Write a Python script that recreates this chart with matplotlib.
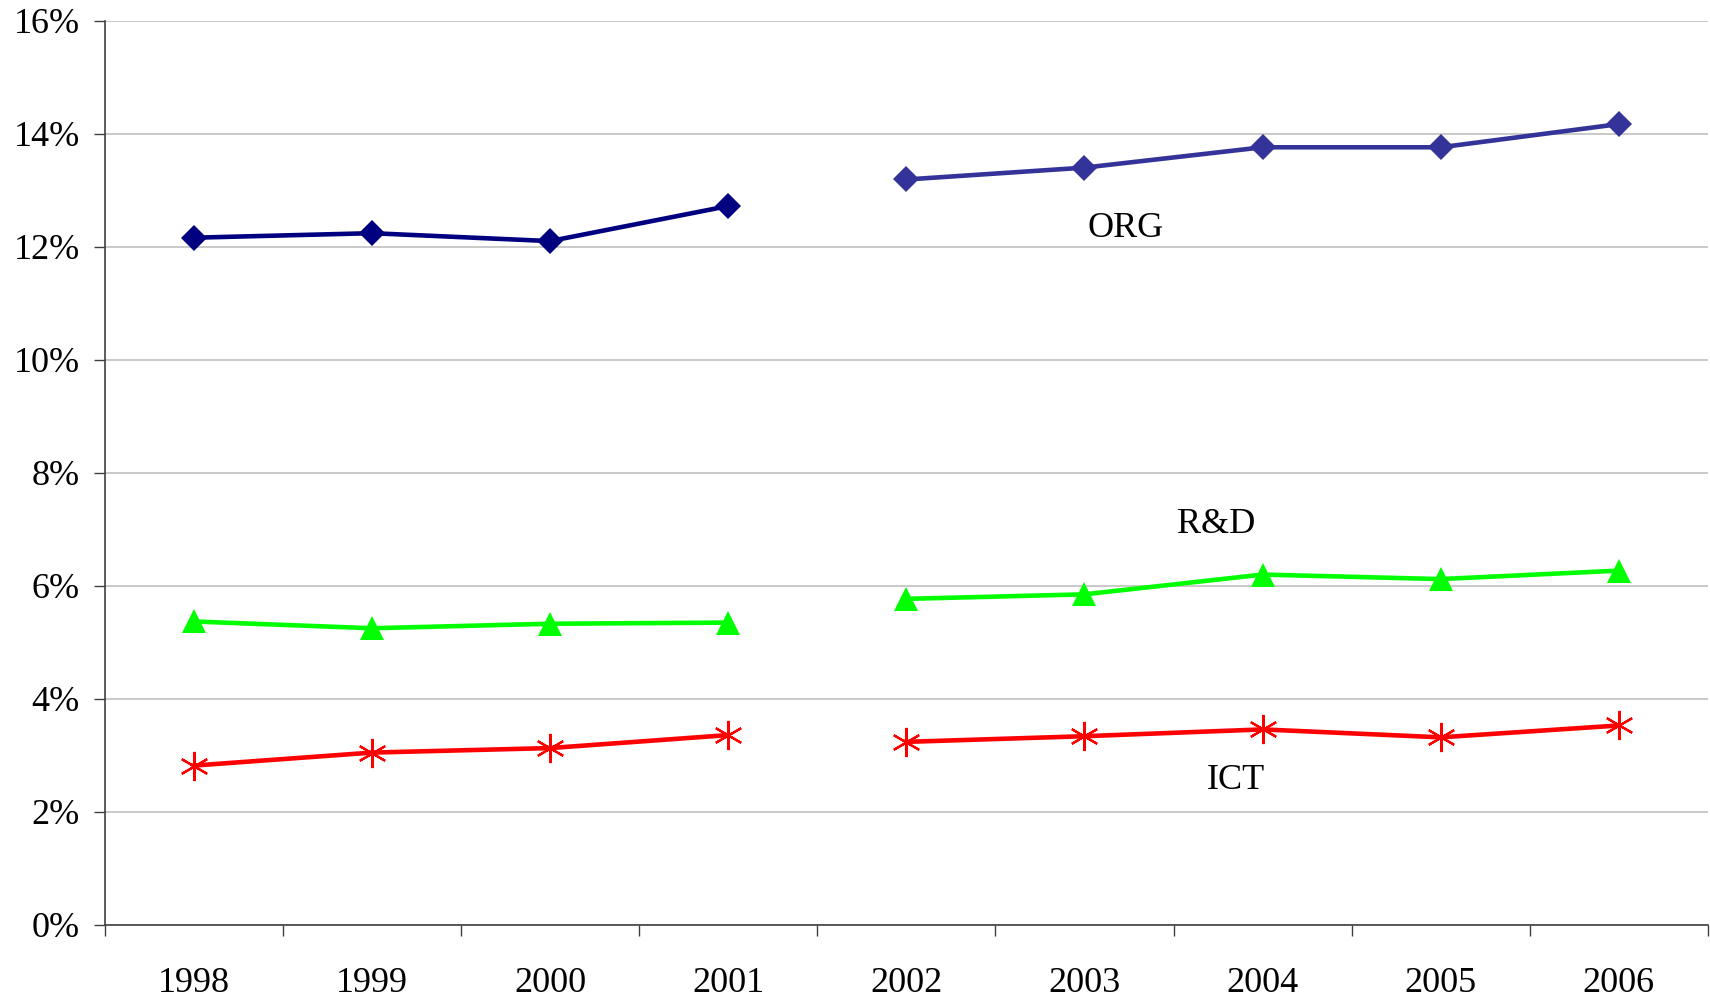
import numpy as np
import matplotlib
matplotlib.use("Agg")
import matplotlib.pyplot as plt
from matplotlib.ticker import FixedLocator, PercentFormatter

years = ["1998", "1999", "2000", "2001", "2002", "2003", "2004", "2005", "2006"]
org = [12.16, 12.24, 12.10, 12.72, 13.19, 13.40, 13.76, 13.76, 14.17]
rnd = [5.37, 5.25, 5.33, 5.35, 5.77, 5.85, 6.20, 6.12, 6.27]
ict = [2.82, 3.05, 3.13, 3.36, 3.24, 3.34, 3.46, 3.32, 3.53]
split = 4  # series break between 2001 and 2002

plt.rcParams["font.family"] = ["Liberation Serif", "DejaVu Serif"]

def plot_series(ax, values, colors, marker, ms, mew=0):
    x = np.arange(len(values))
    for seg, col in zip([slice(0, split), slice(split, None)], colors):
        ax.plot(x[seg], values[seg], color=col, lw=3.3, marker=marker,
                ms=ms, mfc=col, mec=col, mew=mew, clip_on=False, zorder=3)

fig = plt.figure(figsize=(17.1, 9.99), dpi=100)
ax = fig.add_axes([0.0612, 0.0741, 0.9376, 0.9052])

plot_series(ax, org, ["#000080", "#333399"], "D", 13.5)
plot_series(ax, rnd, ["#00ff00", "#00ff00"], "^", 17.5)
plot_series(ax, ict, ["#ff0000", "#ff0000"], (6, 2, 0), 21, mew=1.6)

ax.text(5.23, 12.32, "ORG", fontsize=26, ha="center", va="center")
ax.text(5.74, 7.08, "R&D", fontsize=26, ha="center", va="center")
ax.text(5.85, 2.55, "ICT", fontsize=26, ha="center", va="center")

ax.set_xlim(-0.5, len(years) - 0.5)
ax.set_ylim(0, 16)
ax.set_yticks(np.arange(0, 17, 2))
ax.yaxis.set_major_formatter(PercentFormatter(decimals=0))
ax.xaxis.set_major_locator(FixedLocator(np.arange(-0.5, len(years), 1)))
ax.xaxis.set_minor_locator(FixedLocator(np.arange(len(years))))
ax.set_xticklabels([], minor=False)
ax.set_xticklabels(years, minor=True)
ax.tick_params(axis="x", which="major", length=8, width=1, color="#404040")
ax.tick_params(axis="x", which="minor", length=0, pad=30, labelsize=26)
ax.tick_params(axis="y", length=8, width=1, color="#404040", pad=10, labelsize=26)

ax.grid(axis="y", color="#c0c0c0", lw=1.2)
ax.set_axisbelow(True)
for s in ["top", "right"]:
    ax.spines[s].set_visible(False)
for s in ["left", "bottom"]:
    ax.spines[s].set_color("#404040")
    ax.spines[s].set_linewidth(1.2)

fig.savefig("out.png", dpi=100)
